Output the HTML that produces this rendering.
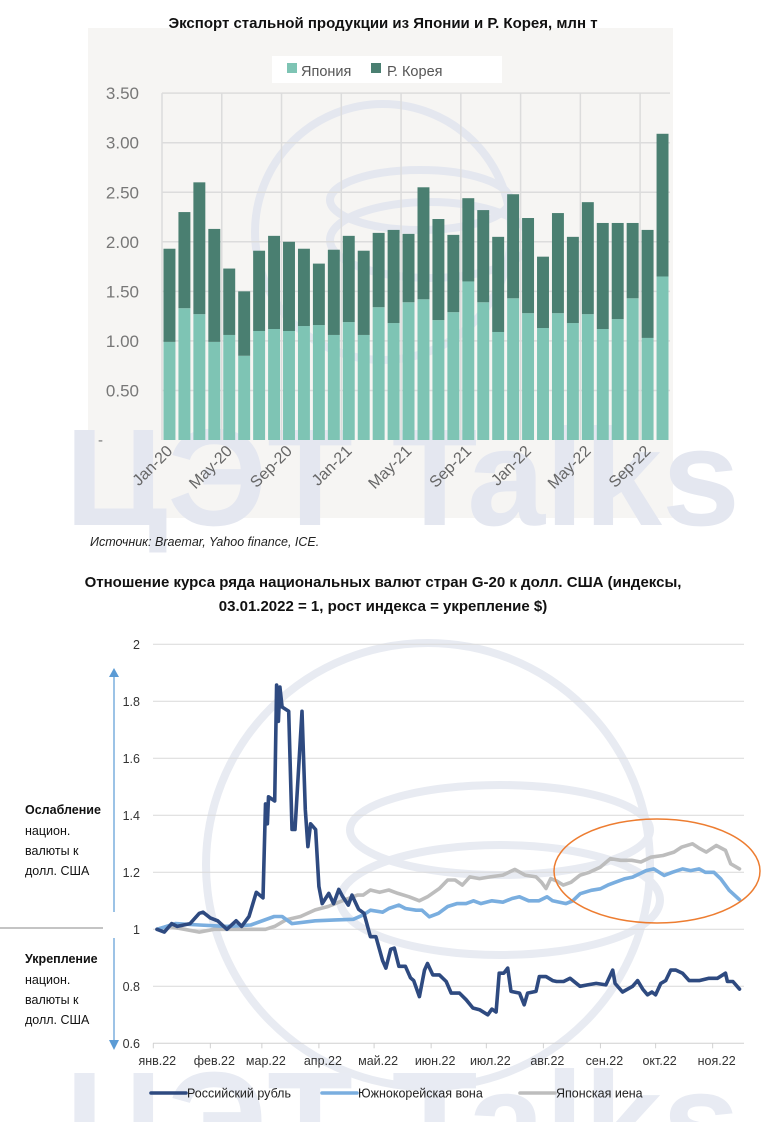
<!DOCTYPE html>
<html><head><meta charset="utf-8">
<style>
body{margin:0;background:#fff;width:767px;height:1122px;overflow:hidden;position:relative;font-family:"Liberation Sans",sans-serif}
svg{position:absolute;left:0;top:0;overflow:hidden}
</style></head>
<body>
<svg id="s" width="767" height="1122" viewBox="0 0 767 1122">
  <g id="wm">
    <rect x="88" y="28" width="585" height="490" fill="#f6f5f3"/>
    <circle cx="383" cy="232" r="128" fill="none" stroke="#e4e7ef" stroke-width="8"/>
    <ellipse cx="420" cy="200" rx="90" ry="30" fill="none" stroke="#e4e7ef" stroke-width="8"/>
    <ellipse cx="430" cy="240" rx="100" ry="38" fill="none" stroke="#e4e7ef" stroke-width="8"/>
    <circle cx="428" cy="865" r="222" fill="none" stroke="#e8ebf2" stroke-width="8"/>
    <ellipse cx="500" cy="830" rx="150" ry="45" fill="none" stroke="#e8ebf2" stroke-width="8"/>
    <ellipse cx="500" cy="900" rx="160" ry="55" fill="none" stroke="#e8ebf2" stroke-width="8"/>
    <text x="65" y="525" font-size="138" font-weight="bold" fill="#e4e7f0" textLength="675" lengthAdjust="spacingAndGlyphs">ЦЭТ Talks</text>
    <text x="65" y="1168" font-size="138" font-weight="bold" fill="#e8ebf3" textLength="675" lengthAdjust="spacingAndGlyphs">ЦЭТ Talks</text>
  </g>
  <text x="383" y="28" text-anchor="middle" font-size="15" font-weight="bold" fill="#111">Экспорт стальной продукции из Японии и Р. Корея, млн т</text>
  <g id="topChart"></g>
  <text x="90" y="546" font-size="12.5" font-style="italic" fill="#222">Источник: Braemar, Yahoo finance, ICE.</text>
  <text x="383" y="587" text-anchor="middle" font-size="15" font-weight="bold" fill="#111">Отношение курса ряда национальных валют стран G-20 к долл. США (индексы,</text>
  <text x="383" y="611" text-anchor="middle" font-size="15" font-weight="bold" fill="#111">03.01.2022 = 1, рост индекса = укрепление $)</text>
  <g id="botChart"></g>
  <g font-size="12.5" fill="#111">
    <text x="25" y="814" font-weight="bold">Ослабление</text>
    <text x="25" y="835">национ.</text>
    <text x="25" y="855">валюты к</text>
    <text x="25" y="875">долл. США</text>
  </g>
  <g font-size="12.5" fill="#111">
    <text x="25" y="963" font-weight="bold">Укрепление</text>
    <text x="25" y="984">национ.</text>
    <text x="25" y="1004">валюты к</text>
    <text x="25" y="1024">долл. США</text>
  </g>
  <line x1="0" y1="928" x2="103" y2="928" stroke="#888" stroke-width="1"/>
  <g stroke="#5b9bd5" fill="#5b9bd5">
    <line x1="114" y1="912" x2="114" y2="675" stroke-width="1.2"/>
    <polygon points="109,677 119,677 114,668" stroke="none"/>
  </g>
  <g stroke="#5b9bd5" fill="#5b9bd5">
    <line x1="114" y1="938" x2="114" y2="1042" stroke-width="1.2"/>
    <polygon points="109,1040 119,1040 114,1050" stroke="none"/>
  </g>
</svg>
<script>
// ---------- Top chart data ----------
const months = ["Jan-20","Feb-20","Mar-20","Apr-20","May-20","Jun-20","Jul-20","Aug-20","Sep-20","Oct-20","Nov-20","Dec-20","Jan-21","Feb-21","Mar-21","Apr-21","May-21","Jun-21","Jul-21","Aug-21","Sep-21","Oct-21","Nov-21","Dec-21","Jan-22","Feb-22","Mar-22","Apr-22","May-22","Jun-22","Jul-22","Aug-22","Sep-22","Oct-22"];
const japan = [0.99,1.33,1.27,0.99,1.06,0.85,1.10,1.12,1.10,1.15,1.16,1.06,1.19,1.06,1.34,1.18,1.39,1.42,1.21,1.29,1.60,1.39,1.09,1.43,1.28,1.13,1.28,1.18,1.27,1.12,1.22,1.43,1.03,1.65];
const korea = [0.94,0.97,1.33,1.14,0.67,0.65,0.81,0.94,0.90,0.78,0.62,0.86,0.87,0.85,0.75,0.94,0.69,1.13,1.02,0.78,0.84,0.93,0.96,1.05,0.96,0.72,1.01,0.87,1.13,1.07,0.97,0.76,1.09,1.44];
const topTicks = [0.5,1.0,1.5,2.0,2.5,3.0,3.5];

// ---------- Bottom chart data (day of year 2022, index value) ----------
const rubDays = [2,6,10,13,20,25,27,31,35,40,45,48,52,56,59.6,61,62,62.6,66,67,68,68.8,70,73.6,75.4,77,80.8,82.6,84,85.5,88.2,90,91.8,95.4,98,100.8,103,106,108,111.6,114.5,118,121,124.6,126.4,129,131,133.5,137,139.8,141.5,144.6,147.4,149,151.9,155.5,159.2,161.9,166.4,170,173.7,177.3,181.8,184,186.3,188,190.5,192.6,194.4,199,201.6,203.4,208,209.8,213.4,217,219.2,223,226.5,231.9,236,240.7,246,249.7,251,255,260.5,263.2,266,268.6,271,273,275.8,278.5,281.2,284,287.6,291.2,296.7,302,306.6,311,312,315,318.6];
const rubVals = [1.00,0.99,1.02,1.01,1.02,1.056,1.06,1.04,1.03,1.00,1.03,1.01,1.045,1.13,1.11,1.44,1.37,1.465,1.45,1.857,1.73,1.85,1.78,1.765,1.35,1.35,1.765,1.42,1.29,1.37,1.35,1.15,1.09,1.126,1.09,1.14,1.114,1.085,1.12,1.07,1.056,0.974,0.974,0.89,0.864,0.93,0.934,0.87,0.87,0.83,0.82,0.764,0.857,0.88,0.84,0.84,0.817,0.776,0.776,0.753,0.724,0.718,0.70,0.72,0.71,0.846,0.846,0.864,0.782,0.776,0.735,0.776,0.782,0.834,0.834,0.82,0.817,0.817,0.828,0.80,0.805,0.81,0.805,0.857,0.81,0.78,0.80,0.82,0.79,0.77,0.78,0.77,0.81,0.82,0.857,0.857,0.846,0.82,0.82,0.828,0.828,0.846,0.817,0.817,0.79];
const wonDays = [2,12,25,40,53,65.7,70,75.4,88,99,108.7,114,118,124.6,128,133.5,137,142.8,146,150,155,160,165,170,174,178,184,190,195,199,204,209.6,214,217,224.3,228,232,238,243,247,251,256,260.5,267.8,272,277.6,282,287.6,292,296.7,300,304.7,308.4,313,318.6];
const wonVals = [1.00,1.02,1.015,1.01,1.015,1.045,1.045,1.02,1.03,1.033,1.035,1.05,1.067,1.06,1.073,1.085,1.073,1.067,1.067,1.044,1.056,1.08,1.09,1.09,1.10,1.09,1.10,1.095,1.108,1.114,1.10,1.10,1.114,1.10,1.09,1.10,1.125,1.137,1.142,1.155,1.165,1.177,1.183,1.206,1.212,1.189,1.20,1.212,1.206,1.212,1.20,1.20,1.177,1.137,1.104];
const yenDays = [2,8,17,25,33,42,52,61,66,72,80,88,95,102.7,111,114,118,123,128,133,139,144.6,149,155.5,160,164,168,172,177.3,183,190,196.5,202,208,211,213.4,216,219,222.8,227,232,237,242.9,248.4,254,260,265,270.4,277,283,287,293,297,300.5,306,311,313.8,318.6];
const yenVals = [1.00,1.01,1.00,0.99,1.00,1.00,1.00,1.00,1.01,1.033,1.045,1.068,1.08,1.10,1.12,1.12,1.138,1.13,1.138,1.126,1.114,1.10,1.114,1.143,1.173,1.173,1.155,1.184,1.178,1.184,1.19,1.21,1.19,1.184,1.165,1.143,1.178,1.17,1.155,1.165,1.19,1.20,1.218,1.248,1.242,1.242,1.236,1.253,1.259,1.271,1.288,1.30,1.283,1.271,1.294,1.277,1.23,1.212];
const monthLabels = ["янв.22","фев.22","мар.22","апр.22","май.22","июн.22","июл.22","авг.22","сен.22","окт.22","ноя.22"];
const monthStarts = [0,31,59,90,120,151,181,212,243,273,304];
const botTicks = [0.6,0.8,1,1.2,1.4,1.6,1.8,2];

const NS="http://www.w3.org/2000/svg";
function mk(parent,tag,attrs,txt){const e=document.createElementNS(NS,tag);for(const k in attrs)e.setAttribute(k,attrs[k]);if(txt!==undefined)e.textContent=txt;parent.appendChild(e);return e;}

// ---- top chart ----
const topG=document.getElementById('topChart');
const tx0=162, tx1=670, ty0=440, tyPerUnit=99.1;
const slot=(tx1-tx0)/months.length;
const yT=v=>ty0-v*tyPerUnit;
const xT=i=>tx0+i*slot;
for(const t of topTicks){
  const g=mk(topG,'line',{x1:tx0,x2:tx1,y1:yT(t),y2:yT(t),stroke:'#dcdcdc','stroke-width':1.5});
  
  
  const l=mk(topG,'text',{x:139,y:yT(t)+6,'text-anchor':'end','font-size':17,fill:'#777'},t.toFixed(2));
  
  
}
const zl=mk(topG,'text',{x:103,y:ty0+5,'text-anchor':'end','font-size':15,fill:'#777'},'-');


for(let i=0;i<=months.length;i+=4){
  const v=mk(topG,'line',{x1:xT(i),x2:xT(i),y1:yT(3.5),y2:ty0,stroke:'#dcdcdc','stroke-width':1.5});
  
  
}
months.forEach((m,i)=>{
  const x=xT(i)+1.5,w=slot-3;
  const b1=mk(topG,'rect',{x:x,y:yT(japan[i]),width:w,height:japan[i]*tyPerUnit,fill:'#7ec4b4'});
  
  
  const b2=mk(topG,'rect',{x:x,y:yT(japan[i]+korea[i]),width:w,height:korea[i]*tyPerUnit,fill:'#4a7f71'});
  
  
  if(i%4===0){
    const cx=xT(i)+slot/2+4, cy=452;
    const t=mk(topG,'text',{x:cx,y:cy,'text-anchor':'end','font-size':16,fill:'#666',transform:`rotate(-45 ${cx} ${cy})`},m);
    
    
  }
});
const lg=mk(topG,'g',{});


mk(lg,'rect',{x:272,y:56,width:230,height:27,fill:'#fff'});
mk(lg,'rect',{x:287,y:63,width:10,height:10,fill:'#7ec4b4'});
mk(lg,'text',{x:301,y:76,'font-size':14.5,fill:'#555'},'Япония');
mk(lg,'rect',{x:371,y:63,width:10,height:10,fill:'#4a7f71'});
mk(lg,'text',{x:387,y:76,'font-size':14.5,fill:'#555'},'Р. Корея');

// ---- bottom chart ----
const botG=document.getElementById('botChart');
const bx0=153.3, pxPerDay=1.84, by2=644.3, byPerUnit=285;
const xB=d=>bx0+d*pxPerDay;
const yB=v=>by2+(2-v)*byPerUnit;
for(const t of botTicks){
  if(t!==0.6){const g=mk(botG,'line',{x1:153,x2:744,y1:yB(t),y2:yB(t),stroke:'#d9d9d9','stroke-width':1});
  
  }
  const l=mk(botG,'text',{x:140,y:yB(t)+4.5,'text-anchor':'end','font-size':12.5,fill:'#333'},String(t));
  
  
}
const ax=mk(botG,'line',{x1:153,x2:744,y1:yB(0.6),y2:yB(0.6),stroke:'#d0d0d0','stroke-width':1});


monthLabels.forEach((m,i)=>{
  const x=xB(monthStarts[i]);
  const tk=mk(botG,'line',{x1:x,x2:x,y1:yB(0.6),y2:yB(0.6)+5,stroke:'#d0d0d0'});
  
  
  const t=mk(botG,'text',{x:x+4,y:1065,'text-anchor':'middle','font-size':12.5,fill:'#333'},m);
  
  
});
function drawLine(days,vals,color,name){
  const pts=days.map((d,i)=>xB(d).toFixed(1)+','+yB(vals[i]).toFixed(1)).join(' ');
  const p=mk(botG,'polyline',{points:pts,fill:'none',stroke:color,'stroke-width':3.6,'stroke-linejoin':'round','stroke-linecap':'round'});
  
  
}
drawLine(yenDays,yenVals,'#bdbdbd','line-japanese-yen');
drawLine(wonDays,wonVals,'#7aaedf','line-korean-won');
drawLine(rubDays,rubVals,'#2e4a80','line-russian-ruble');
const el=mk(botG,'ellipse',{cx:657,cy:871,rx:103,ry:52,fill:'none',stroke:'#ed7d31','stroke-width':1.5});


const legItems=[['Российский рубль','#2e4a80',151],['Южнокорейская вона','#7aaedf',322],['Японская иена','#bdbdbd',520]];
for(const [lab,c,x] of legItems){
  const g=mk(botG,'g',{});
  
  
  mk(g,'line',{x1:x,x2:x+35,y1:1093,y2:1093,stroke:c,'stroke-width':3.6,'stroke-linecap':'round'});
  mk(g,'text',{x:x+36,y:1097.5,'font-size':12.5,fill:'#222'},lab);
}
</script>
</body></html>
